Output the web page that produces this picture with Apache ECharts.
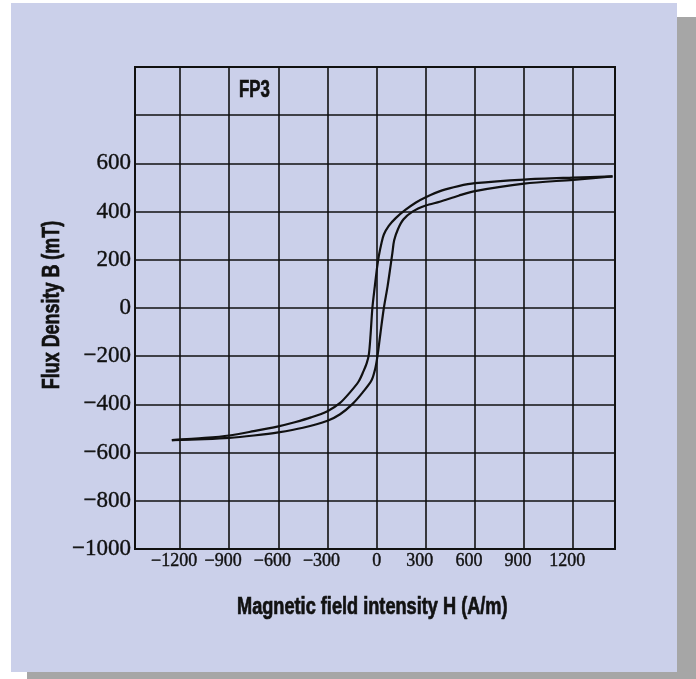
<!DOCTYPE html>
<html>
<head>
<meta charset="utf-8">
<title>FP3 B-H loop</title>
<script src="https://cdn.jsdelivr.net/npm/echarts@6/dist/echarts.min.js"></script>
<style>
  html, body { margin: 0; padding: 0; background: #ffffff; }
  #chart { width: 696px; height: 679px; }
</style>
</head>
<body>
<div id="chart"></div>
<script>
// Hysteresis loop of FP3 ferrite: H in A/m, B in mT.
// Descending branch (from positive to negative saturation).
const hDown = [1440, 1200, 900, 600, 500, 400, 300, 240, 175, 118, 74, 44, 29, 13, 3, -11, -26, -37, -47, -60, -80, -110, -160, -225, -300, -400, -500, -600, -750, -900, -1050, -1250];
const bDown = [546, 541, 533, 518, 506, 488, 460, 438, 407, 374, 341, 305, 268, 215, 170, 91, 0, -111, -190, -228, -262, -305, -348, -395, -428, -454, -474, -491, -511, -529, -539, -548];
// Ascending branch (from negative back to positive saturation).
const hUp = [-1250, -1050, -900, -750, -600, -450, -300, -223, -150, -85, -31, -8, 5, 22, 44, 67, 85, 96, 107, 130, 163, 219, 300, 385, 500, 600, 900, 1200, 1440];
const bUp = [-548, -544, -539, -529, -516, -497, -468, -441, -400, -350, -300, -250, -200, -111, 0, 91, 175, 228, 281, 327, 367, 400, 425, 441, 466, 485, 516, 532, 546];

const sampleName = 'FP3';
const xTitle = 'Magnetic field intensity H (A/m)';
const yTitle = 'Flux Density B (mT)';
const yLabelMax = 600;   // labels above this value are left blank

const pair = (hs, bs) => hs.map((h, i) => [h, bs[i]]);
const signed = v => (v < 0 ? '\u2212' + Math.abs(v) : String(v));

const serif = '"Liberation Serif", "Times New Roman", serif';
const heavy = '"Liberation Sans", Arial, sans-serif';
const ink = '#111111';

// Heavy condensed caption text: bold face squeezed horizontally, with a thin outline.
const caption = (text, x, y, extra) => Object.assign({
  type: 'text', x: x, y: y, scaleX: 0.78, silent: true,
  style: { text: text, x: 0, y: 0, fill: ink, stroke: ink, lineWidth: 0.7,
           font: 'bold 23px ' + heavy, align: 'left', verticalAlign: 'middle' }
}, extra || {});

const chart = echarts.init(document.getElementById('chart'), null, { renderer: 'canvas' });

chart.setOption({
  backgroundColor: '#ffffff',
  animation: false,
  graphic: [
    { type: 'rect', z: -20, silent: true, shape: { x: 27, y: 17, width: 669, height: 662 }, style: { fill: '#a6a6a6' } },
    { type: 'rect', z: -10, silent: true, shape: { x: 11, y: 3, width: 666, height: 669 }, style: { fill: '#cbd0ea' } },
    caption(sampleName, 239, 91, { scaleX: 0.73 }),
    caption(xTitle, 237, 608, { scaleX: 0.79 }),
    (function () {
      const t = caption(yTitle, 53, 305, { rotation: Math.PI / 2 });
      t.style.align = 'center';
      return t;
    })()
  ],
  grid: {
    left: 135, top: 67, width: 480, height: 482,
    show: true, borderColor: ink, borderWidth: 2, backgroundColor: 'transparent'
  },
  xAxis: {
    type: 'value',
    min: -1475, max: 1455, splitNumber: 10,
    axisLine: { show: false },
    axisTick: { show: false },
    splitLine: { show: true, lineStyle: { color: ink, width: 1.6 } },
    axisLabel: {
      margin: 3,
      showMinLabel: false, showMaxLabel: false,
      formatter: v => (v === 0 ? '{z|0}' : '{n|' + signed(v) + '}'),
      rich: {
        n: { fontFamily: serif, fontSize: 18, color: ink, textBorderColor: ink, textBorderWidth: 0.4, padding: [0, 12, 0, 0] },
        z: { fontFamily: serif, fontSize: 18, color: ink, textBorderColor: ink, textBorderWidth: 0.4 }
      }
    }
  },
  yAxis: {
    type: 'value',
    min: -1000, max: 1000, interval: 200,
    axisLine: { show: false },
    axisTick: { show: false },
    splitLine: { show: true, lineStyle: { color: ink, width: 1.6 } },
    axisLabel: {
      margin: 4,
      fontFamily: serif, fontSize: 23, color: ink,
      textBorderColor: ink, textBorderWidth: 0.4,
      formatter: v => (v > yLabelMax ? '' : signed(v))
    }
  },
  series: [
    { type: 'line', name: 'descending', data: pair(hDown, bDown), showSymbol: false, smooth: 0.3,
      lineStyle: { color: ink, width: 2.2 }, z: 5 },
    { type: 'line', name: 'ascending', data: pair(hUp, bUp), showSymbol: false, smooth: 0.3,
      lineStyle: { color: ink, width: 2.2 }, z: 5 }
  ]
});
</script>
</body>
</html>
